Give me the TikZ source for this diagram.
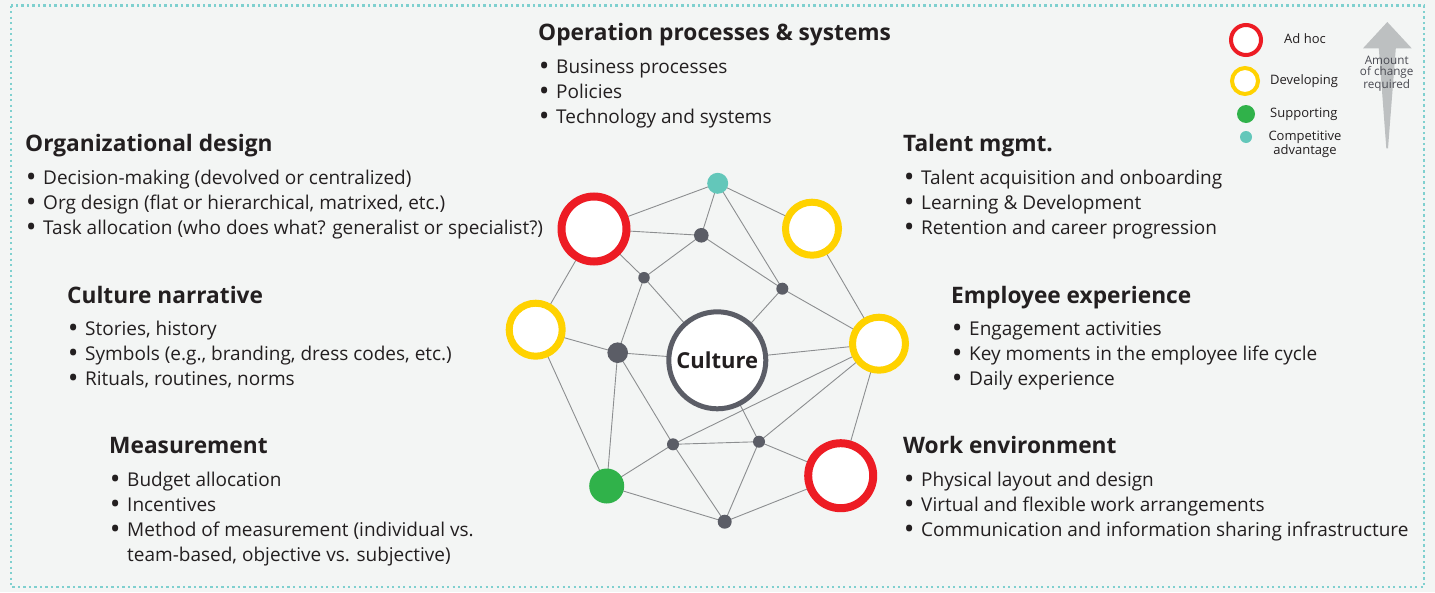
\documentclass[tikz,border=0pt]{standalone}
\usepackage{fontspec}
\setmainfont{Open Sans}
\pgfdeclarelayer{back}
\pgfdeclarelayer{edges}
\pgfsetlayers{back,edges,main}
\definecolor{bgc}{HTML}{F3F5F4}
\definecolor{framec}{HTML}{7FD0CF}
\definecolor{adhoc}{HTML}{ED1C24}
\definecolor{devel}{HTML}{FFD200}
\definecolor{suppc}{HTML}{30B24A}
\definecolor{compc}{HTML}{63C7BA}
\definecolor{darkn}{HTML}{5B5D66}
\definecolor{edgec}{HTML}{8C8E90}
\definecolor{txt}{HTML}{231F20}
\definecolor{arrc}{HTML}{BDC0C1}
\tikzset{
  ring/.style={circle,fill=white,inner sep=0pt},
  redring/.style={ring,draw=adhoc,line width=8pt,minimum size=65pt},
  yelring/.style={ring,draw=devel,line width=7pt,minimum size=53pt},
  dot/.style={circle,fill=darkn,inner sep=0pt,draw=none},
  edge/.style={draw=edgec,line width=0.9pt},
  head/.style={anchor=base west,inner sep=0pt,text=txt,font=\fontsize{22.7}{26}\selectfont\bfseries},
  bul/.style={anchor=base west,inner sep=0pt,text=txt,font=\fontsize{19}{22}\selectfont},
  leg/.style={inner sep=0pt,text=txt,font=\fontsize{13}{13.5}\selectfont},
}
\newcommand\bdot{\raisebox{-0.6pt}{\scalebox{1.15}{\bfseries •}}}
\newcommand\hd[4]{\node[head] (#1) at (#2,#3) {#4};}
\newcommand\bl[4]{\node[bul] (#1) at (#2-16,#3) {\makebox[16pt][l]{\bdot}#4};}
\begin{document}
\begin{tikzpicture}[x=1pt,y=-1pt]
\useasboundingbox (0,0) rectangle (1435,592);
\begin{pgfonlayer}{back}
\fill[bgc] (0,0) rectangle (1435,592);
\draw[framec,line width=2.2pt,dash pattern=on 2.2pt off 3.3pt] (11,5.5) rectangle (1424,587);
\end{pgfonlayer}

% network nodes
\node[dot,fill=compc,minimum size=21pt] (teal) at (717.7,183.3) {};
\node[redring] (rtl) at (594,229) {};
\node[yelring] (ytr) at (812,228.7) {};
\node[yelring] (yl) at (535.7,329.7) {};
\node[yelring] (yr) at (879,343.7) {};
\node[redring] (rbr) at (840.7,475.7) {};
\node[dot,fill=suppc,minimum size=35pt] (grn) at (606.7,486) {};
\node[circle,fill=white,draw=darkn,line width=5pt,minimum size=97pt,inner sep=0pt,
      font=\fontsize{22}{26}\selectfont\bfseries,text=txt] (cul) at (717.3,360.3) {Culture};
\node[dot,minimum size=14.6pt] (na) at (701.3,235.3) {};
\node[dot,minimum size=11.5pt] (nb) at (644,277.7) {};
\node[dot,minimum size=12pt] (nc) at (782.3,288.7) {};
\node[dot,minimum size=20.6pt] (nd) at (617.7,352.7) {};
\node[dot,minimum size=12pt] (ne) at (673,444.3) {};
\node[dot,minimum size=12pt] (nf) at (759,441.7) {};
\node[dot,minimum size=14pt] (ng) at (724.7,521.7) {};

\begin{pgfonlayer}{edges}
\foreach \a/\b in {rtl/teal,teal/ytr,teal/na,teal/nc,rtl/na,rtl/nb,rtl/yl,na/nb,na/nc,nc/yr,nc/cul,
  ytr/yr,nb/cul,nb/nd,yl/nd,nd/cul,yl/grn,nd/grn,nd/ne,cul/nf,yr/cul,yr/ne,yr/nf,yr/rbr,
  ne/nf,nf/rbr,grn/ne,grn/ng,ne/ng,nf/ng,ng/rbr}
  \draw[edge] (\a.center) -- (\b.center);
\end{pgfonlayer}

% text blocks
\hd{h1}{538}{40}{Operation processes \& systems}
\bl{b11}{556}{73}{Business processes}
\bl{b12}{556}{98}{Policies}
\bl{b13}{556}{123}{Technology and systems}

\hd{h2}{25}{151}{Organizational design}
\bl{b21}{43}{184}{Decision-making (devolved or centralized)}
\bl{b22}{43}{209}{Org design (flat or hierarchical, matrixed, etc.)}
\bl{b23}{43}{234}{Task allocation (who does what? generalist or specialist?)}

\hd{h3}{67}{303}{Culture narrative}
\bl{b31}{85}{335}{Stories, history}
\bl{b32}{85}{360}{Symbols (e.g., branding, dress codes, etc.)}
\bl{b33}{85}{385}{Rituals, routines, norms}

\hd{h4}{109}{453}{Measurement}
\bl{b41}{127}{486}{Budget allocation}
\bl{b42}{127}{511}{Incentives}
\bl{b43}{127}{536}{Method of measurement (individual vs.}
\node[bul] (b44) at (127,561) {team-based, objective vs. subjective)};

\hd{h5}{903}{151}{Talent mgmt.}
\bl{b51}{921}{184}{Talent acquisition and onboarding}
\bl{b52}{921}{209}{Learning \& Development}
\bl{b53}{921}{234}{Retention and career progression}

\hd{h6}{951}{303}{Employee experience}
\bl{b61}{969}{335}{Engagement activities}
\bl{b62}{969}{360}{Key moments in the employee life cycle}
\bl{b63}{969}{385}{Daily experience}

\hd{h7}{903}{453}{Work environment}
\bl{b71}{921}{486}{Physical layout and design}
\bl{b72}{921}{511}{Virtual and flexible work arrangements}
\bl{b73}{921}{536}{Communication and information sharing infrastructure}

% legend
\node[ring,draw=adhoc,line width=4pt,minimum size=30pt] (lr) at (1246,40) {};
\node[ring,draw=devel,line width=4pt,minimum size=26pt] (ly) at (1245,81) {};
\node[dot,fill=suppc,minimum size=18pt] (lg) at (1246,114) {};
\node[dot,fill=compc,minimum size=12pt] (lt) at (1246,137) {};
\node[leg] (tr) at (1305,39) {Ad hoc};
\node[leg,anchor=west] (ty) at (1270,81) {Developing};
\node[leg,anchor=west] (tg) at (1270,114) {Supporting};
\node[leg,align=center,font=\fontsize{13}{12.5}\selectfont] (tt) at (1305,144.5) {Competitive\\advantage};

\fill[arrc] (1387.3,22) -- (1411.7,48.3) -- (1395.8,48.3) -- (1388,148.3) -- (1386.3,148.3) -- (1378.8,48.3) -- (1363,48.3) -- cycle;
\node[leg,align=center,text=darkn!80!black,font=\fontsize{11.7}{11.5}\selectfont] (ta) at (1386.7,73.5) {Amount\\of change\\required};
\end{tikzpicture}
\end{document}
